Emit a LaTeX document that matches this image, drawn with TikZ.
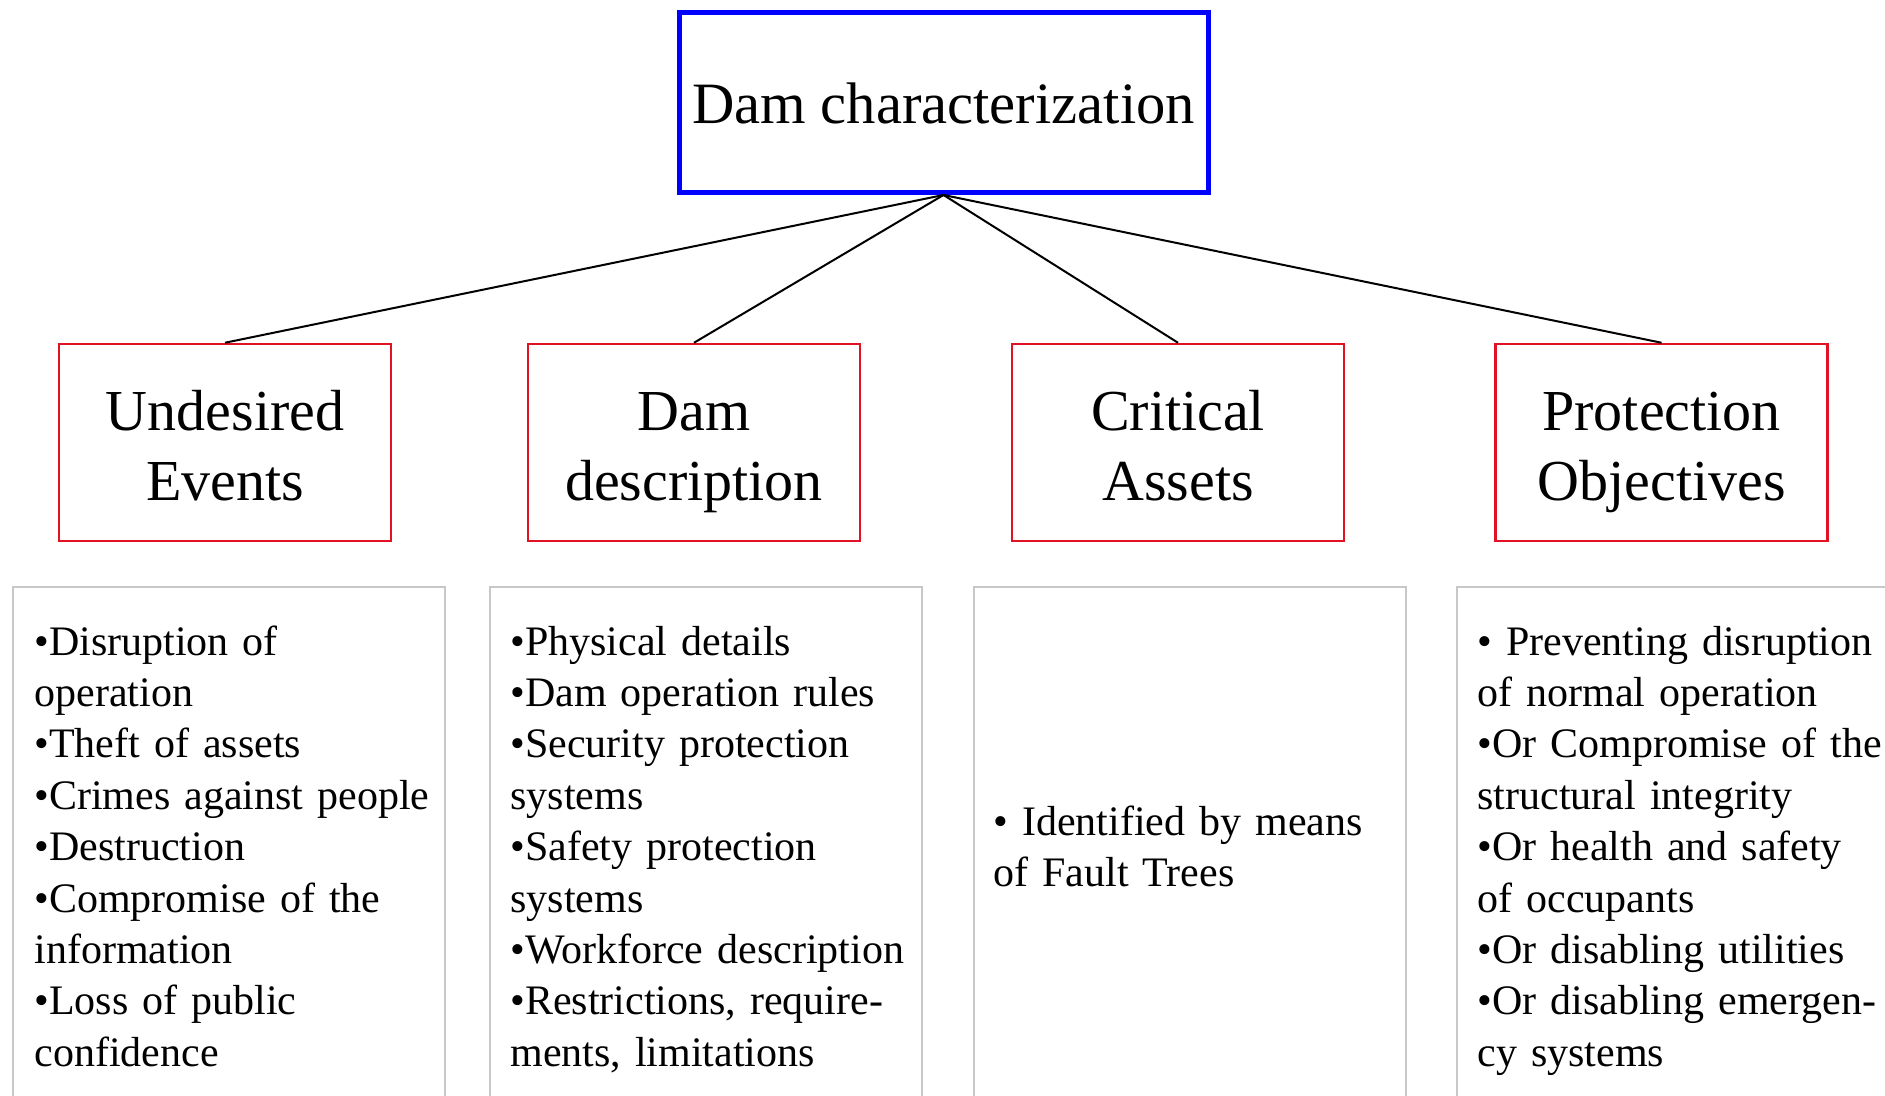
\documentclass[tikz,border=0pt]{standalone}
\usepackage{fontspec}
\setmainfont{Liberation Serif}
\definecolor{titleblue}{RGB}{0,0,255}
\definecolor{topicred}{RGB}{224,18,36}
\definecolor{panelgray}{RGB}{200,200,200}
\begin{document}
\begin{tikzpicture}[x=0.5pt,y=-0.5pt,
  titlebox/.style={draw=titleblue, line width=2.5pt, minimum width=264.5pt,
    minimum height=90pt, inner sep=0pt,
    font=\fontsize{29.3}{35.5}\selectfont, text height=21.5pt, text depth=0pt},
  topicbox/.style={draw=topicred, line width=1.25pt, minimum width=166pt,
    minimum height=98.5pt, inner sep=0pt, align=center, text width=160pt,
    font=\fontsize{29}{35}\selectfont, text height=25pt, text depth=37pt},
  panel/.style={draw=panelgray, line width=1pt, minimum width=216pt,
    minimum height=310pt, inner sep=0pt, outer sep=0pt, anchor=north west},
  listtext/.style={anchor=base west, inner sep=0pt, align=left,
    text width=212pt, font=\fontsize{21}{25.7}\selectfont},
  link/.style={draw=black, line width=1pt}
]
\useasboundingbox (0,0) rectangle (1885,1096);

% root of the hierarchy
\node[titlebox] (root) at (943.5,102.5) {Dam characterization};

% the four topics
\node[topicbox] (events)  at (225,442.5)  {Undesired\\Events};
\node[topicbox] (descr)   at (694,442.5)  {Dam\\description};
\node[topicbox] (assets)  at (1178,442.5) {Critical\\Assets};
\node[topicbox] (protect) at (1661.5,442.5) {Protection\\Objectives};

\foreach \t in {events,descr,assets,protect}
  \draw[link] (root.south) -- (\t.north);

% detail panels (open at the bottom edge of the page)
\node[panel] (p1) at (13,587) {};
\node[panel] (p2) at (490,587) {};
\node[panel] (p3) at (974,587) {};
\node[panel] (p4) at (1457,587) {};

\node[listtext] (l1) at (34,655) {•Disruption of\\
operation\\
•Theft of assets\\
•Crimes against people\\
•Destruction\\
•Compromise of the\\
information\\
•Loss of public\\
confidence};

\node[listtext] (l2) at (510,655) {•Physical details\\
•Dam operation rules\\
•Security protection\\
systems\\
•Safety protection\\
systems\\
•Workforce description\\
•Restrictions, require-\\
ments, limitations};

\node[listtext] (l3) at (993,835.5) {• Identified by means\\
of Fault Trees};

\node[listtext] (l4) at (1477,655) {• Preventing disruption\\
of normal operation\\
•Or Compromise of the\\
structural integrity\\
•Or health and safety\\
of occupants\\
•Or disabling utilities\\
•Or disabling emergen-\\
cy systems};
\end{tikzpicture}
\end{document}
